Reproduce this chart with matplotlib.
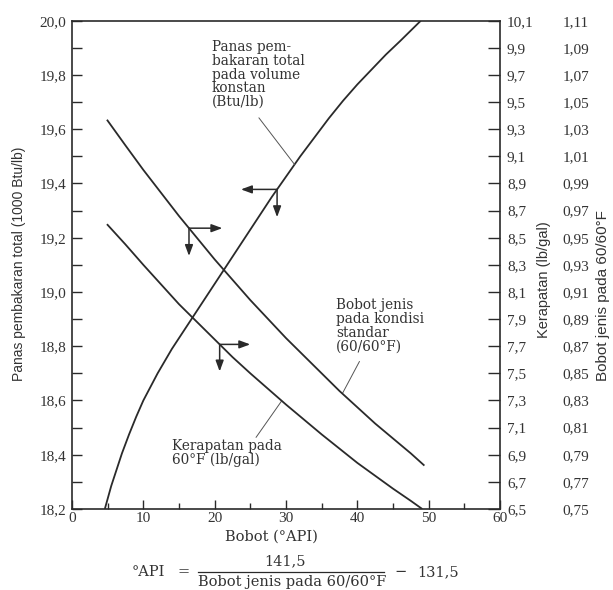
import numpy as np
import matplotlib
matplotlib.use("Agg")
import matplotlib.pyplot as plt
from matplotlib.lines import Line2D

# ---------------- data ----------------
api_heat = [4.6, 5.5, 6, 7, 8, 9, 10, 12, 14, 16, 18, 20, 22, 24, 26, 28, 30, 32, 34, 36, 38, 40,
            42, 44, 46, 48.9]
heat = [18.20, 18.285, 18.325, 18.405, 18.475, 18.54, 18.60, 18.70, 18.79, 18.87, 18.95, 19.03,
        19.11, 19.19, 19.27, 19.35, 19.425, 19.50, 19.57, 19.64, 19.705, 19.765, 19.82, 19.875,
        19.925, 20.00]

api_sg = [4.9, 7.5, 10, 12.5, 15, 17.5, 20, 22.5, 25, 27.5, 30, 32.5, 35, 37.5, 40, 42.5, 45,
          47.5, 49.4]
sg = [1.037, 1.018, 1.000, 0.983, 0.966, 0.950, 0.934, 0.919, 0.904, 0.890, 0.876, 0.863, 0.850,
      0.837, 0.825, 0.813, 0.802, 0.791, 0.782]

api_dens = [4.9, 7.5, 10, 12.5, 15, 17.5, 20, 22.5, 25, 27.5, 30, 32.5, 35, 37.5, 40, 42.5, 45,
            47.5, 49.1]
dens = [8.60, 8.45, 8.30, 8.155, 8.01, 7.88, 7.75, 7.62, 7.50, 7.385, 7.27, 7.16, 7.05, 6.945,
        6.84, 6.745, 6.65, 6.56, 6.50]

x_ticks = [0, 10, 20, 30, 40, 50, 60]
heat_ticks = [18.2, 18.4, 18.6, 18.8, 19.0, 19.2, 19.4, 19.6, 19.8, 20.0]
heat_labels = ["18,2", "18,4", "18,6", "18,8", "19,0", "19,2", "19,4", "19,6", "19,8", "20,0"]
dens_labels = ["10,1", "9,9", "9,7", "9,5", "9,3", "9,1", "8,9", "8,7", "8,5", "8,3",
               "8,1", "7,9", "7,7", "7,5", "7,3", "7,1", "6,9", "6,7", "6,5"]
sg_labels = ["1,11", "1,09", "1,07", "1,05", "1,03", "1,01", "0,99", "0,97", "0,95", "0,93",
             "0,91", "0,89", "0,87", "0,85", "0,83", "0,81", "0,79", "0,77", "0,75"]

# ---------------- styling ----------------
W, H = 613, 590
INK = "#2a2a2a"
TXT = "#333333"
TICKFONT = "Liberation Serif"
ANNFONT = "DejaVu Serif"
LABFONT = "Liberation Sans"


def fx(px):
    return px / W


def fy(py):
    return 1 - py / H


fig = plt.figure(figsize=(W / 100, H / 100), dpi=100)
ax = fig.add_axes([fx(72), fy(509), fx(500) - fx(72), fy(20.7) - fy(509)])
ax_d = ax.twinx()
ax_s = ax.twinx()

ax.set_xlim(0, 60)
ax.set_ylim(18.2, 20.0)
ax_d.set_ylim(6.5, 10.1)
ax_s.set_ylim(0.75, 1.11)

# curves
LW = 1.3
ax.plot(api_heat, heat, color=INK, lw=LW, solid_capstyle="butt", solid_joinstyle="round")
ax_s.plot(api_sg, sg, color=INK, lw=LW, solid_capstyle="butt", solid_joinstyle="round")
ax_d.plot(api_dens, dens, color=INK, lw=LW, solid_capstyle="butt", solid_joinstyle="round")

# spines
for a in (ax, ax_d, ax_s):
    for s in a.spines.values():
        s.set_color(INK)
        s.set_linewidth(1.2)
for s in ax_s.spines.values():
    s.set_visible(False)
ax.spines["right"].set_visible(False)
for side in ("left", "top", "bottom"):
    ax_d.spines[side].set_visible(False)

# left axis ticks
ax.set_yticks(heat_ticks)
ax.set_yticklabels(heat_labels)
ax.set_yticks(np.array(heat_ticks[:-1]) + 0.1, minor=True)
ax.tick_params(axis="y", which="both", direction="in", length=7.5, width=1.0, color=INK,
               labelsize=11, labelcolor=TXT, pad=4)
# bottom ticks
ax.set_xticks(x_ticks)
ax.set_xticklabels([str(v) for v in x_ticks])
ax.set_xticks(np.array(x_ticks[:-1]) + 5, minor=True)
ax.tick_params(axis="x", which="major", direction="in", length=6.5, width=1.0, color=INK,
               labelsize=11, labelcolor=TXT, pad=2)
ax.tick_params(axis="x", which="minor", direction="in", length=4, width=1.0, color=INK)
for t in ax.get_xticklabels() + ax.get_yticklabels():
    t.set_family(TICKFONT)

# right density axis
dvals = np.linspace(10.1, 6.5, len(dens_labels))
ax_d.set_yticks(dvals)
ax_d.set_yticklabels(dens_labels)
ax_d.tick_params(axis="y", direction="in", length=8.5, width=1.0, color=INK,
                 labelsize=11, labelcolor=TXT, pad=5)
for t in ax_d.get_yticklabels():
    t.set_family(TICKFONT)

# specific gravity labels (further right)
svals = np.linspace(1.11, 0.75, len(sg_labels))
ax_s.set_yticks(svals)
ax_s.set_yticklabels(sg_labels)
ax_s.tick_params(axis="y", length=0, labelsize=11, labelcolor=TXT, pad=45)
for t in ax_s.get_yticklabels():
    t.set_family(TICKFONT)

# ---------------- arrows ----------------
AP = dict(arrowstyle="<|-,head_length=0.65,head_width=0.24", color=INK, lw=1.1,
          shrinkA=0, shrinkB=0)


def arrows(axis, xs, ys, xj, dx_pt, dy_pt):
    yj = float(np.interp(xj, xs, ys))
    axis.annotate("", xy=(xj, yj), xytext=(dx_pt, 0), textcoords="offset points", arrowprops=AP)
    axis.annotate("", xy=(xj, yj), xytext=(0, -dy_pt), textcoords="offset points", arrowprops=AP)


arrows(ax, api_heat, heat, 28.75, -26, 20)
arrows(ax_s, api_sg, sg, 16.4, 24, 20)
arrows(ax_d, api_dens, dens, 20.7, 22, 19.5)

# leader lines
LP = dict(arrowstyle="-", color="#555555", lw=0.7, shrinkA=0, shrinkB=0)
ax.annotate("", xy=(31.2, float(np.interp(31.2, api_heat, heat))), xytext=(26.2, 19.642),
            textcoords=ax.transData, arrowprops=LP)
ax.annotate("", xy=(37.9, float(np.interp(37.9, api_sg, sg))), xycoords=ax_s.transData,
            xytext=(40.3, 18.744), textcoords=ax.transData, arrowprops=LP)
ax.annotate("", xy=(29.4, float(np.interp(29.4, api_dens, dens))), xycoords=ax_d.transData,
            xytext=(25.8, 18.464), textcoords=ax.transData, arrowprops=LP)

# ---------------- annotations ----------------
ann = dict(family=ANNFONT, fontsize=9.8, color=TXT, ha="left", va="top", linespacing=0.98)
fig.text(fx(212), fy(40), "Panas pem-\nbakaran total\npada volume\nkonstan\n(Btu/lb)", **ann)
fig.text(fx(336), fy(298), "Bobot jenis\npada kondisi\nstandar\n(60/60\u00b0F)", **ann)
fig.text(fx(172), fy(439), "Kerapatan pada\n60\u00b0F (lb/gal)", **ann)

# axis labels
fig.text(fx(271), fy(537), "Bobot (\u00b0API)", family=ANNFONT, fontsize=10.5, color=TXT,
         ha="center", va="center")
fig.text(fx(19), fy(264), "Panas pembakaran total (1000 Btu/lb)", family=LABFONT, fontsize=10,
         color=TXT, rotation=90, ha="center", va="center")
fig.text(fx(544), fy(280), "Kerapatan (lb/gal)", family=LABFONT, fontsize=10.5, color=TXT,
         rotation=90, ha="center", va="center")
fig.text(fx(603), fy(296), "Bobot jenis pada 60/60\u00b0F", family=LABFONT, fontsize=11,
         color=TXT, rotation=90, ha="center", va="center")

# formula
fml = dict(family=ANNFONT, fontsize=10.5, color=TXT, va="center")
fig.text(fx(132), fy(572), "\u00b0API", ha="left", **fml)
fig.text(fx(184), fy(572), "=", ha="center", **fml)
fig.text(fx(285), fy(561), "141,5", ha="center", **fml)
fig.add_artist(Line2D([fx(198), fx(384)], [fy(572), fy(572)], color=INK, lw=0.9))
fig.text(fx(292), fy(582), "Bobot jenis pada 60/60\u00b0F", ha="center", **fml)
fig.text(fx(401), fy(572), "\u2212", ha="center", **fml)
fig.text(fx(417), fy(572), "131,5", ha="left", **fml)

fig.savefig("out.png", dpi=100)
